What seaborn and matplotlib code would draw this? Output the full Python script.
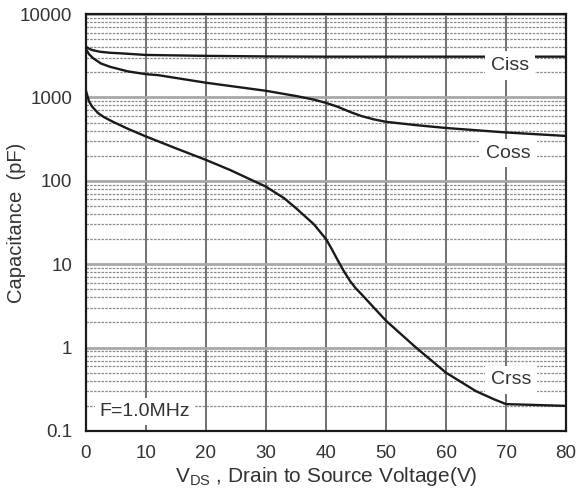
import numpy as np
import pandas as pd
import matplotlib
matplotlib.use("Agg")
import matplotlib.pyplot as plt
import seaborn as sns
from matplotlib.ticker import LogLocator, FixedLocator, NullFormatter

# ---- data ----
ciss_v = [0, 0.5, 1, 2.3, 4, 5.7, 10, 20, 30, 40, 50, 60, 70, 80]
ciss_c = [4050, 3850, 3700, 3530, 3430, 3380, 3230, 3150, 3100, 3080, 3080, 3080, 3080, 3080]

coss_v = [0, 0.5, 1.2, 2.5, 4, 7, 10, 12, 20, 30, 35, 38, 40, 42, 44, 46, 48, 50, 55, 60, 70, 80]
coss_c = [3800, 3300, 2950, 2550, 2330, 2050, 1900, 1850, 1500, 1200, 1040, 940, 860, 770,
          670, 595, 545, 510, 465, 430, 380, 345]

crss_v = [0, 0.5, 1, 2, 3, 4.5, 7, 10, 15, 20, 24, 30, 33, 35, 38, 40, 41, 42, 43, 44, 45,
          46, 48, 50, 55, 60, 65, 68, 70, 75, 80]
crss_c = [1200, 900, 780, 650, 580, 510, 420, 340, 245, 178, 135, 85, 62, 47, 30, 20, 15,
          11, 8.2, 6.3, 5.1, 4.3, 3.0, 2.1, 1.0, 0.5, 0.3, 0.24, 0.21, 0.205, 0.2]

x_ticks = [0, 10, 20, 30, 40, 50, 60, 70, 80]
y_ticks = [0.1, 1, 10, 100, 1000, 10000]
y_tick_labels = ["0.1", "1", "10", "100", "1000", "10000"]

labels = ["Ciss", "Coss", "Crss"]
label_pos = [(70.6, 2400), (70.4, 215), (70.8, 0.41)]

df = pd.concat([
    pd.DataFrame({"V": ciss_v, "C": ciss_c, "curve": "Ciss"}),
    pd.DataFrame({"V": coss_v, "C": coss_c, "curve": "Coss"}),
    pd.DataFrame({"V": crss_v, "C": crss_c, "curve": "Crss"}),
])

sns.set_style("white")
plt.rcParams["font.family"] = ["Liberation Sans", "DejaVu Sans"]

fig = plt.figure(figsize=(5.77, 4.92), dpi=100)
ax = fig.add_axes([0.149, 0.124, 0.832, 0.8475])

sns.lineplot(data=df, x="V", y="C", hue="curve", palette=["#1a1a1a"] * 3,
             legend=False, linewidth=1.7, ax=ax, sort=False, zorder=3)

ax.set_yscale("log")
ax.set_xlim(0, 80)
ax.set_ylim(0.1, 10000)

ax.xaxis.set_major_locator(FixedLocator(x_ticks))
ax.yaxis.set_major_locator(FixedLocator(y_ticks))
ax.set_yticklabels(y_tick_labels)
ax.yaxis.set_minor_locator(LogLocator(base=10, subs=np.arange(2, 10), numticks=20))
ax.yaxis.set_minor_formatter(NullFormatter())

ax.grid(True, which="major", axis="x", color="#4a4a4a", linewidth=1.1, linestyle="-", zorder=1)
ax.grid(True, which="major", axis="y", color="#a8a8a8", linewidth=2.0, linestyle="-", zorder=1)
ax.grid(True, which="minor", axis="y", color="#8a8a8a", linewidth=0.9,
        linestyle=(0, (2, 1)), zorder=1)
ax.set_axisbelow(True)

ax.tick_params(axis="both", which="both", length=0, labelsize=13.5, colors="#333333")
ax.tick_params(axis="y", pad=10)
ax.tick_params(axis="x", pad=10)

for s in ax.spines.values():
    s.set_color("#1a1a1a")
    s.set_linewidth(1.6)

ax.set_ylabel("Capacitance  (pF)", fontsize=14.5, color="#333333")
ax.yaxis.set_label_coords(-0.125, 0.5)
ax.set_xlabel("V$_{\\mathregular{DS}}$ , Drain to Source Voltage(V)", fontsize=15,
              color="#333333", labelpad=2)

for lab, (xv, yv) in zip(labels, label_pos):
    ax.text(xv, yv, lab, ha="center", va="center", fontsize=14, color="#333333",
            zorder=5, bbox=dict(boxstyle="square,pad=0.3", fc="white", ec="none"))

ax.text(2.3, 0.17, "F=1.0MHz", ha="left", va="center", fontsize=14, color="#333333",
        zorder=5, bbox=dict(boxstyle="square,pad=0.25", fc="white", ec="none"))

fig.savefig("out.png", dpi=100)
